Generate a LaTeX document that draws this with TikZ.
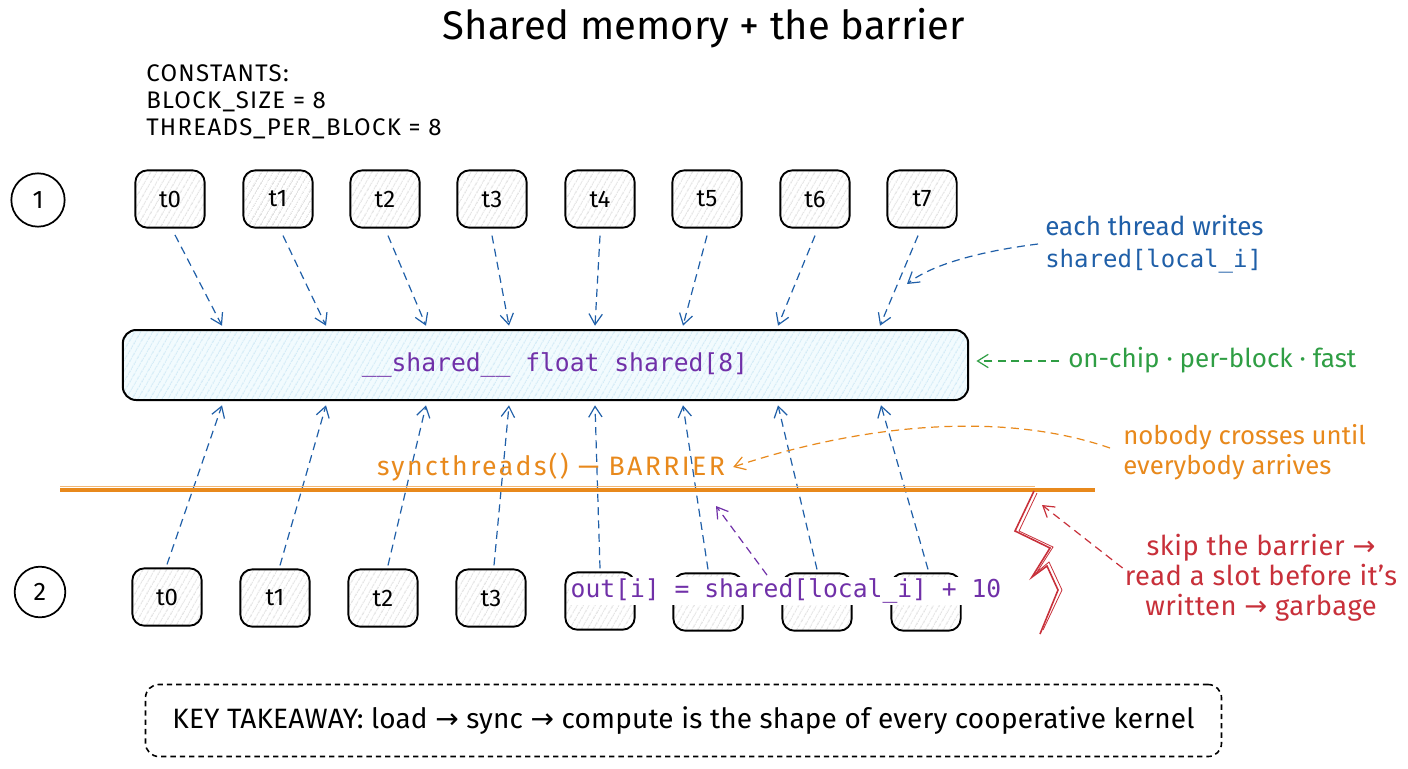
\documentclass[tikz,border=0pt]{standalone}
\usepackage{fontspec}
\setmainfont{Fira Sans}
\newfontfamily\codef{DejaVu Sans Mono}
\newfontfamily\symf{DejaVu Sans}
\usetikzlibrary{arrows.meta,patterns.meta,calc}
\definecolor{cblue}{HTML}{1F5FA8}
\definecolor{cpurple}{HTML}{7030A8}
\definecolor{corange}{HTML}{E8891C}
\definecolor{cgreen}{HTML}{2F9E44}
\definecolor{cred}{HTML}{C8303A}
\definecolor{chatch}{HTML}{9CCFEA}
\newcommand\fsz[2]{\fontsize{#1}{#2}\selectfont}
\newcommand\ar{{\symf →}}
\tikzset{
  thr/.style={draw=black, line width=1.4pt, rounded corners=9pt, minimum width=52pt, minimum height=43pt,
    preaction={fill=white}, pattern={Lines[angle=60,distance=4pt,line width=0.4pt]}, pattern color=black!30,
    font=\fsz{18}{20}, inner sep=0pt},
  stagecirc/.style={draw=black, line width=1.3pt, circle, minimum size=40pt, inner sep=0pt, font=\fsz{19}{20}, fill=white},
  tip/.style={-{Straight Barb[length=8pt,width=10pt]}},
  barr/.style={tip, draw=cblue, line width=0.9pt, dash pattern=on 6pt off 4pt},
  lbl/.style={inner sep=0pt, align=left},
}
\begin{document}
\begin{tikzpicture}[x=0.75pt,y=-0.75pt]
\useasboundingbox[fill=white] (0,0) rectangle (1408,768);

% title and constants
\node[lbl, font=\fsz{30}{34}] (title) at (704,28) {Shared memory + the barrier};
\node[lbl, anchor=north west, font=\fsz{18}{20.3}\addfontfeature{LetterSpace=5.5}] (consts) at (146,64) {CONSTANTS:\\BLOCK\_SIZE = 8\\THREADS\_PER\_BLOCK = 8};

% stage markers
\node[stagecirc] (s1) at (38,200) {1};
\node[stagecirc, minimum size=38pt] (s2) at (40,592) {2};

% top threads
\foreach \i/\x in {0/170,1/278,2/385,3/492,4/600,5/707,6/815,7/922}
  \node[thr] (a\i) at (\x,199) {t\i};

% shared memory bar
\node[draw=black, line width=1.5pt, rounded corners=10pt, minimum width=634pt, minimum height=52.5pt,
  preaction={fill=cyan!5}, pattern={Lines[angle=60,distance=4pt,line width=0.45pt]}, pattern color=chatch] (bar) at (545.5,365) {};
\node[inner sep=0pt, font=\codef\fsz{18.5}{20}, text=cpurple] (bartxt) at (555,365) {\_\_shared\_\_ float shared[8]};

% top arrows
\foreach \i/\dx/\off in {0/5/-323.5,1/5/-219.5,2/3/-119.5,3/0/-36.5,4/0/49.5,5/0/137.5,6/0/232.5,7/-4/334.5}
  \draw[barr] ($(a\i.south)+(\dx,7)$) -- ($(bar.north)+(\off,-4)$);

% bottom threads
\foreach \i/\x/\y/\t in {0/167/597/t0,1/275/598/t1,2/383/598/t2,3/491/598/t3,4/600/601/,5/708/602/,6/817/602/,7/926/602/}
  \node[thr] (b\i) at (\x,\y) {\t};

% bottom arrows
\foreach \i/\dx/\off in {0/0/-323.5,1/5/-219.5,2/5/-119.5,3/3/-36.5,4/0/49.5,5/0/137.5,6/0/232.5,7/2/335.5}
  \draw[barr] ($(b\i.north)+(\dx,-3)$) -- ($(bar.south)+(\off,5)$);

% barrier
\coordinate (barL) at (60,490);
\coordinate (barR) at (1095,490);
\draw[corange, line width=3.4pt] (barL) -- (barR);
\draw[corange!60, line width=0.8pt] ($(barL)+(0,-3.5)$) -- ($(barR)+(-60,-3.5)$);
\node[lbl, text=corange, font=\fsz{20}{22}\addfontfeature{LetterSpace=9}] (sync) at (551,467) {syncthreads() — BARRIER};

% code overlay on bottom row
\node[fill=white, inner sep=1pt, text=cpurple, font=\codef\fsz{18.5}{20}] (outtxt) at (786,591) {out[i] = shared[local\_i] + 10};
\coordinate (ptgt) at (716,506);
\draw[tip, draw=cpurple, line width=0.9pt, dash pattern=on 6pt off 4pt] ($(outtxt.north)+(-19,-2)$) -- (ptgt);

% blue annotation
\node[lbl, anchor=west, text=cblue, font=\fsz{19.5}{24}] (each) at (1045,244) {each thread writes\\{\codef\fsz{18}{24}shared[local\_i]}};
\coordinate (etgt) at (907,284);
\draw[barr] ($(each.west)+(-7,0)$) .. controls (990,250) and (935,262) .. (etgt);

% green annotation
\node[lbl, anchor=west, text=cgreen, font=\fsz{19.5}{22}] (green) at (1068,360) {on-chip · per-block · fast};
\draw[tip, draw=cgreen, line width=0.9pt, dash pattern=on 6pt off 4pt] ($(green.west)+(-9,1)$) -- ($(bar.east)+(8,-4)$);

% orange annotation
\node[lbl, anchor=west, text=corange, font=\fsz{19.3}{22.5}] (nobody) at (1123,452) {nobody crosses until\\everybody arrives};
\draw[tip, draw=corange, line width=0.9pt, dash pattern=on 6pt off 4pt] ($(nobody.west)+(-13,-4)$) .. controls (1000,410) and (860,425) .. ($(sync.east)+(8,0)$);

% red annotation
\coordinate (z0) at (1034,491);
\draw[cred, line width=1.2pt, line join=miter] (z0) -- (1015,531) -- (1050,548) -- (1032,577) -- (1047,566) -- (1058,590) -- (1040,634);
\draw[cred, line width=0.6pt] ($(z0)+(3,2)$) -- (1019,531) -- (1053,547) -- (1037,572) -- (1049,562) -- (1062,590) -- (1043,630);
\node[lbl, align=center, text=cred, font=\fsz{20.5}{22.5}\addfontfeature{LetterSpace=2}] (red) at (1261,578) {skip the barrier \ar\\read a slot before it’s\\written \ar\ garbage};
\coordinate (rtgt) at (1042,505);
\draw[tip, draw=cred, line width=0.9pt, dash pattern=on 6pt off 4pt] ($(red.west)+(-2,-10)$) -- (rtgt);

% takeaway
\node[draw=black, line width=1.2pt, dash pattern=on 4pt off 3pt, rounded corners=10pt, minimum width=807pt, minimum height=54pt,
  font=\fsz{21}{22}\addfontfeature{LetterSpace=0.6}] (take) at (683.5,720.5) {KEY TAKEAWAY: load \ar\ sync \ar\ compute is the shape of every cooperative kernel};
\end{tikzpicture}
\end{document}
